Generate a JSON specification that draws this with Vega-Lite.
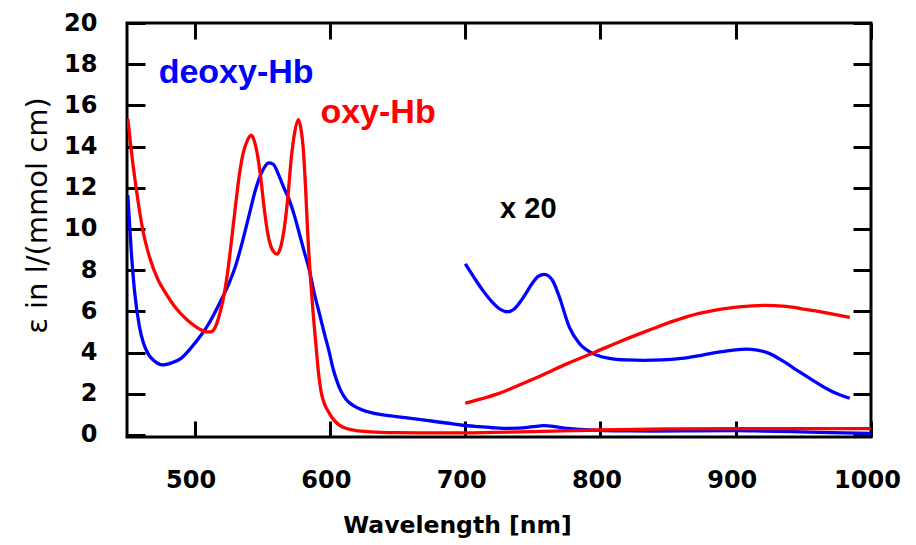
{
  "$schema": "https://vega.github.io/schema/vega-lite/v6.json",
  "width": 744,
  "height": 414,
  "autosize": "none",
  "padding": {"left": 127, "top": 23, "right": 45, "bottom": 108},
  "background": "white",
  "config": {
    "view": {"stroke": "black", "strokeWidth": 3},
    "axis": {"grid": false}
  },
  "datasets": {
    "curves": [
      {"series": "deoxy-Hb", "wl": 450.6, "eps": 11.64},
      {"series": "deoxy-Hb", "wl": 453.1, "eps": 8.97},
      {"series": "deoxy-Hb", "wl": 455.5, "eps": 7.03},
      {"series": "deoxy-Hb", "wl": 459.2, "eps": 5.25},
      {"series": "deoxy-Hb", "wl": 462, "eps": 4.5},
      {"series": "deoxy-Hb", "wl": 465.4, "eps": 3.96},
      {"series": "deoxy-Hb", "wl": 470, "eps": 3.6},
      {"series": "deoxy-Hb", "wl": 476.5, "eps": 3.4},
      {"series": "deoxy-Hb", "wl": 483, "eps": 3.5},
      {"series": "deoxy-Hb", "wl": 490, "eps": 3.72},
      {"series": "deoxy-Hb", "wl": 497, "eps": 4.2},
      {"series": "deoxy-Hb", "wl": 504.8, "eps": 4.85},
      {"series": "deoxy-Hb", "wl": 510, "eps": 5.35},
      {"series": "deoxy-Hb", "wl": 515, "eps": 5.95},
      {"series": "deoxy-Hb", "wl": 520, "eps": 6.6},
      {"series": "deoxy-Hb", "wl": 525, "eps": 7.3},
      {"series": "deoxy-Hb", "wl": 530, "eps": 8.15},
      {"series": "deoxy-Hb", "wl": 535, "eps": 9.3},
      {"series": "deoxy-Hb", "wl": 540, "eps": 10.6},
      {"series": "deoxy-Hb", "wl": 545, "eps": 11.9},
      {"series": "deoxy-Hb", "wl": 550, "eps": 12.8},
      {"series": "deoxy-Hb", "wl": 554.8, "eps": 13.21},
      {"series": "deoxy-Hb", "wl": 558, "eps": 13.15},
      {"series": "deoxy-Hb", "wl": 562.7, "eps": 12.53},
      {"series": "deoxy-Hb", "wl": 566, "eps": 12.0},
      {"series": "deoxy-Hb", "wl": 570, "eps": 11.4},
      {"series": "deoxy-Hb", "wl": 574, "eps": 10.6},
      {"series": "deoxy-Hb", "wl": 577.4, "eps": 9.78},
      {"series": "deoxy-Hb", "wl": 581, "eps": 8.9},
      {"series": "deoxy-Hb", "wl": 584.8, "eps": 8.0},
      {"series": "deoxy-Hb", "wl": 588, "eps": 7.0},
      {"series": "deoxy-Hb", "wl": 592.2, "eps": 5.9},
      {"series": "deoxy-Hb", "wl": 596, "eps": 4.9},
      {"series": "deoxy-Hb", "wl": 599.6, "eps": 4.0},
      {"series": "deoxy-Hb", "wl": 602, "eps": 3.3},
      {"series": "deoxy-Hb", "wl": 605, "eps": 2.65},
      {"series": "deoxy-Hb", "wl": 608, "eps": 2.15},
      {"series": "deoxy-Hb", "wl": 612, "eps": 1.72},
      {"series": "deoxy-Hb", "wl": 618, "eps": 1.4},
      {"series": "deoxy-Hb", "wl": 624, "eps": 1.21},
      {"series": "deoxy-Hb", "wl": 635, "eps": 1.02},
      {"series": "deoxy-Hb", "wl": 649, "eps": 0.89},
      {"series": "deoxy-Hb", "wl": 660, "eps": 0.8},
      {"series": "deoxy-Hb", "wl": 673, "eps": 0.69},
      {"series": "deoxy-Hb", "wl": 686, "eps": 0.58},
      {"series": "deoxy-Hb", "wl": 698, "eps": 0.47},
      {"series": "deoxy-Hb", "wl": 710, "eps": 0.4},
      {"series": "deoxy-Hb", "wl": 720, "eps": 0.35},
      {"series": "deoxy-Hb", "wl": 728, "eps": 0.32},
      {"series": "deoxy-Hb", "wl": 740, "eps": 0.33},
      {"series": "deoxy-Hb", "wl": 750, "eps": 0.4},
      {"series": "deoxy-Hb", "wl": 758, "eps": 0.45},
      {"series": "deoxy-Hb", "wl": 765, "eps": 0.42},
      {"series": "deoxy-Hb", "wl": 772, "eps": 0.34},
      {"series": "deoxy-Hb", "wl": 782, "eps": 0.28},
      {"series": "deoxy-Hb", "wl": 795, "eps": 0.23},
      {"series": "deoxy-Hb", "wl": 810, "eps": 0.2},
      {"series": "deoxy-Hb", "wl": 840, "eps": 0.19},
      {"series": "deoxy-Hb", "wl": 870, "eps": 0.2},
      {"series": "deoxy-Hb", "wl": 900, "eps": 0.21},
      {"series": "deoxy-Hb", "wl": 920, "eps": 0.19},
      {"series": "deoxy-Hb", "wl": 942, "eps": 0.16},
      {"series": "deoxy-Hb", "wl": 970, "eps": 0.11},
      {"series": "deoxy-Hb", "wl": 1000, "eps": 0.08},

      {"series": "oxy-Hb", "wl": 450.6, "eps": 15.36},
      {"series": "oxy-Hb", "wl": 453, "eps": 13.9},
      {"series": "oxy-Hb", "wl": 456.8, "eps": 11.97},
      {"series": "oxy-Hb", "wl": 461.7, "eps": 9.94},
      {"series": "oxy-Hb", "wl": 466.6, "eps": 8.65},
      {"series": "oxy-Hb", "wl": 472.8, "eps": 7.55},
      {"series": "oxy-Hb", "wl": 478, "eps": 6.95},
      {"series": "oxy-Hb", "wl": 485.1, "eps": 6.25},
      {"series": "oxy-Hb", "wl": 491, "eps": 5.8},
      {"series": "oxy-Hb", "wl": 497.4, "eps": 5.42},
      {"series": "oxy-Hb", "wl": 503, "eps": 5.16},
      {"series": "oxy-Hb", "wl": 508.5, "eps": 5.01},
      {"series": "oxy-Hb", "wl": 512, "eps": 5.0},
      {"series": "oxy-Hb", "wl": 515, "eps": 5.2},
      {"series": "oxy-Hb", "wl": 518, "eps": 5.75},
      {"series": "oxy-Hb", "wl": 521, "eps": 6.55},
      {"series": "oxy-Hb", "wl": 524, "eps": 7.7},
      {"series": "oxy-Hb", "wl": 527, "eps": 9.3},
      {"series": "oxy-Hb", "wl": 530, "eps": 11.0},
      {"series": "oxy-Hb", "wl": 533, "eps": 12.6},
      {"series": "oxy-Hb", "wl": 535.6, "eps": 13.6},
      {"series": "oxy-Hb", "wl": 539, "eps": 14.3},
      {"series": "oxy-Hb", "wl": 541.8, "eps": 14.55},
      {"series": "oxy-Hb", "wl": 544, "eps": 14.3},
      {"series": "oxy-Hb", "wl": 546.7, "eps": 13.5},
      {"series": "oxy-Hb", "wl": 549, "eps": 12.4},
      {"series": "oxy-Hb", "wl": 551.6, "eps": 10.91},
      {"series": "oxy-Hb", "wl": 554, "eps": 9.8},
      {"series": "oxy-Hb", "wl": 556.5, "eps": 9.13},
      {"series": "oxy-Hb", "wl": 559, "eps": 8.85},
      {"series": "oxy-Hb", "wl": 561, "eps": 8.78},
      {"series": "oxy-Hb", "wl": 563.5, "eps": 9.1},
      {"series": "oxy-Hb", "wl": 566.4, "eps": 10.1},
      {"series": "oxy-Hb", "wl": 569, "eps": 11.6},
      {"series": "oxy-Hb", "wl": 571.3, "eps": 13.34},
      {"series": "oxy-Hb", "wl": 574, "eps": 14.7},
      {"series": "oxy-Hb", "wl": 576.7, "eps": 15.31},
      {"series": "oxy-Hb", "wl": 578.5, "eps": 14.9},
      {"series": "oxy-Hb", "wl": 580.4, "eps": 13.83},
      {"series": "oxy-Hb", "wl": 582, "eps": 12.0},
      {"series": "oxy-Hb", "wl": 583.6, "eps": 9.78},
      {"series": "oxy-Hb", "wl": 586.1, "eps": 7.19},
      {"series": "oxy-Hb", "wl": 588, "eps": 5.6},
      {"series": "oxy-Hb", "wl": 589.8, "eps": 4.28},
      {"series": "oxy-Hb", "wl": 591.5, "eps": 3.05},
      {"series": "oxy-Hb", "wl": 593.5, "eps": 2.1},
      {"series": "oxy-Hb", "wl": 596, "eps": 1.5},
      {"series": "oxy-Hb", "wl": 599.6, "eps": 1.05},
      {"series": "oxy-Hb", "wl": 603, "eps": 0.72},
      {"series": "oxy-Hb", "wl": 607, "eps": 0.48},
      {"series": "oxy-Hb", "wl": 613, "eps": 0.3},
      {"series": "oxy-Hb", "wl": 619.3, "eps": 0.21},
      {"series": "oxy-Hb", "wl": 630, "eps": 0.15},
      {"series": "oxy-Hb", "wl": 649, "eps": 0.11},
      {"series": "oxy-Hb", "wl": 673, "eps": 0.1},
      {"series": "oxy-Hb", "wl": 700, "eps": 0.1},
      {"series": "oxy-Hb", "wl": 720, "eps": 0.12},
      {"series": "oxy-Hb", "wl": 750, "eps": 0.16},
      {"series": "oxy-Hb", "wl": 800, "eps": 0.24},
      {"series": "oxy-Hb", "wl": 850, "eps": 0.29},
      {"series": "oxy-Hb", "wl": 900, "eps": 0.31},
      {"series": "oxy-Hb", "wl": 950, "eps": 0.31},
      {"series": "oxy-Hb", "wl": 1000, "eps": 0.31},

      {"series": "deoxy-Hb x20", "wl": 700.1, "eps": 8.3},
      {"series": "deoxy-Hb x20", "wl": 706, "eps": 7.7},
      {"series": "deoxy-Hb x20", "wl": 712.9, "eps": 7.03},
      {"series": "deoxy-Hb x20", "wl": 720, "eps": 6.45},
      {"series": "deoxy-Hb x20", "wl": 726, "eps": 6.1},
      {"series": "deoxy-Hb x20", "wl": 731.3, "eps": 5.98},
      {"series": "deoxy-Hb x20", "wl": 736, "eps": 6.1},
      {"series": "deoxy-Hb x20", "wl": 740, "eps": 6.4},
      {"series": "deoxy-Hb x20", "wl": 744.9, "eps": 6.87},
      {"series": "deoxy-Hb x20", "wl": 750, "eps": 7.4},
      {"series": "deoxy-Hb x20", "wl": 754, "eps": 7.7},
      {"series": "deoxy-Hb x20", "wl": 758.5, "eps": 7.8},
      {"series": "deoxy-Hb x20", "wl": 764.6, "eps": 7.5},
      {"series": "deoxy-Hb x20", "wl": 769.5, "eps": 6.72},
      {"series": "deoxy-Hb x20", "wl": 776.9, "eps": 5.25},
      {"series": "deoxy-Hb x20", "wl": 784.3, "eps": 4.45},
      {"series": "deoxy-Hb x20", "wl": 794.1, "eps": 3.96},
      {"series": "deoxy-Hb x20", "wl": 806.6, "eps": 3.72},
      {"series": "deoxy-Hb x20", "wl": 818.9, "eps": 3.64},
      {"series": "deoxy-Hb x20", "wl": 832, "eps": 3.62},
      {"series": "deoxy-Hb x20", "wl": 845.9, "eps": 3.64},
      {"series": "deoxy-Hb x20", "wl": 860, "eps": 3.72},
      {"series": "deoxy-Hb x20", "wl": 875.4, "eps": 3.88},
      {"series": "deoxy-Hb x20", "wl": 890, "eps": 4.04},
      {"series": "deoxy-Hb x20", "wl": 907.5, "eps": 4.17},
      {"series": "deoxy-Hb x20", "wl": 916, "eps": 4.12},
      {"series": "deoxy-Hb x20", "wl": 924.7, "eps": 3.96},
      {"series": "deoxy-Hb x20", "wl": 935, "eps": 3.58},
      {"series": "deoxy-Hb x20", "wl": 946.9, "eps": 3.07},
      {"series": "deoxy-Hb x20", "wl": 957, "eps": 2.65},
      {"series": "deoxy-Hb x20", "wl": 966.6, "eps": 2.27},
      {"series": "deoxy-Hb x20", "wl": 975, "eps": 2.0},
      {"series": "deoxy-Hb x20", "wl": 984.3, "eps": 1.78},

      {"series": "oxy-Hb x20", "wl": 700.1, "eps": 1.54},
      {"series": "oxy-Hb x20", "wl": 712, "eps": 1.75},
      {"series": "oxy-Hb x20", "wl": 725.2, "eps": 2.02},
      {"series": "oxy-Hb x20", "wl": 740, "eps": 2.42},
      {"series": "oxy-Hb x20", "wl": 757.2, "eps": 2.91},
      {"series": "oxy-Hb x20", "wl": 775, "eps": 3.45},
      {"series": "oxy-Hb x20", "wl": 796.7, "eps": 4.04},
      {"series": "oxy-Hb x20", "wl": 815, "eps": 4.55},
      {"series": "oxy-Hb x20", "wl": 836, "eps": 5.09},
      {"series": "oxy-Hb x20", "wl": 855, "eps": 5.55},
      {"series": "oxy-Hb x20", "wl": 873, "eps": 5.9},
      {"series": "oxy-Hb x20", "wl": 888, "eps": 6.1},
      {"series": "oxy-Hb x20", "wl": 902.5, "eps": 6.22},
      {"series": "oxy-Hb x20", "wl": 922.3, "eps": 6.29},
      {"series": "oxy-Hb x20", "wl": 935, "eps": 6.25},
      {"series": "oxy-Hb x20", "wl": 946.9, "eps": 6.15},
      {"series": "oxy-Hb x20", "wl": 958, "eps": 6.03},
      {"series": "oxy-Hb x20", "wl": 969, "eps": 5.9},
      {"series": "oxy-Hb x20", "wl": 984.3, "eps": 5.71}
    ],
    "names": [
      {"series": "deoxy-Hb", "wl": 473.4, "eps": 17.09, "label": "deoxy-Hb"},
      {"series": "oxy-Hb", "wl": 593, "eps": 15.15, "label": "oxy-Hb"}
    ],
    "note": [
      {"wl": 725.8, "eps": 10.53, "label": "x 20"}
    ]
  },
  "resolve": {"axis": {"x": "independent", "y": "independent"}},
  "layer": [
    {
      "data": {"name": "curves"},
      "mark": {"type": "point", "opacity": 0},
      "encoding": {
        "x": {"field": "wl", "type": "quantitative",
          "scale": {"domain": [450, 1000], "nice": false, "zero": false},
          "axis": {"orient": "top", "values": [500, 600, 700, 800, 900, 1000], "labels": false, "title": null, "domain": false,
            "tickSize": -16, "tickWidth": 3, "tickColor": "black"}},
        "y": {"field": "eps", "type": "quantitative",
          "scale": {"domain": [-0.1, 20], "nice": false, "zero": false},
          "axis": {"orient": "right", "values": [0, 2, 4, 6, 8, 10, 12, 14, 16, 18, 20], "labels": false, "title": null, "domain": false,
            "tickSize": -18, "tickWidth": 3, "tickColor": "black"}}
      }
    },
    {
      "data": {"name": "curves"},
      "mark": {"type": "line", "strokeWidth": 3.3, "interpolate": "monotone", "clip": true},
      "encoding": {
        "x": {"field": "wl", "type": "quantitative",
          "axis": {"orient": "bottom", "values": [500, 600, 700, 800, 900, 1000], "format": "d", "domain": false,
            "tickSize": -16, "tickWidth": 3, "tickColor": "black", "labelFlush": false, "labelOffset": -4,
            "labelFont": "DejaVu Sans", "labelFontWeight": "bold", "labelFontSize": 24, "labelColor": "black", "labelPadding": 47,
            "title": "Wavelength [nm]", "titleFont": "DejaVu Sans", "titleFontWeight": "bold", "titleFontSize": 23.5, "titleColor": "black",
            "titleX": 330, "titleY": 95, "titleBaseline": "alphabetic", "titleAlign": "center"}},
        "y": {"field": "eps", "type": "quantitative",
          "axis": {"orient": "left", "values": [0, 2, 4, 6, 8, 10, 12, 14, 16, 18, 20], "domain": false,
            "tickSize": -18, "tickWidth": 3, "tickColor": "black", "labelFlush": false,
            "labelFont": "DejaVu Sans", "labelFontWeight": "bold", "labelFontSize": 24, "labelColor": "black", "labelPadding": 48,
            "title": "ε in l/(mmol cm)", "titleFont": "DejaVu Sans", "titleFontWeight": "normal", "titleFontSize": 29, "titleColor": "black",
            "titleX": -90, "titleY": 192, "titleBaseline": "middle", "titleAlign": "center", "titleAngle": -90}},
        "color": {"field": "series", "type": "nominal", "legend": null,
          "scale": {"domain": ["deoxy-Hb", "oxy-Hb", "deoxy-Hb x20", "oxy-Hb x20"], "range": ["#0000ff", "#ff0000", "#0000ff", "#ff0000"]}}
      }
    },
    {
      "data": {"name": "names"},
      "mark": {"type": "text", "font": "Liberation Sans", "fontWeight": "bold", "fontSize": 34, "align": "left", "baseline": "alphabetic"},
      "encoding": {
        "x": {"field": "wl", "type": "quantitative", "axis": null},
        "y": {"field": "eps", "type": "quantitative", "axis": null},
        "text": {"field": "label"},
        "color": {"field": "series", "type": "nominal", "legend": null}
      }
    },
    {
      "data": {"name": "note"},
      "mark": {"type": "text", "font": "Liberation Sans", "fontWeight": "bold", "fontSize": 29, "align": "left", "baseline": "alphabetic", "color": "black"},
      "encoding": {
        "x": {"field": "wl", "type": "quantitative", "axis": null},
        "y": {"field": "eps", "type": "quantitative", "axis": null},
        "text": {"field": "label"}
      }
    }
  ]
}
